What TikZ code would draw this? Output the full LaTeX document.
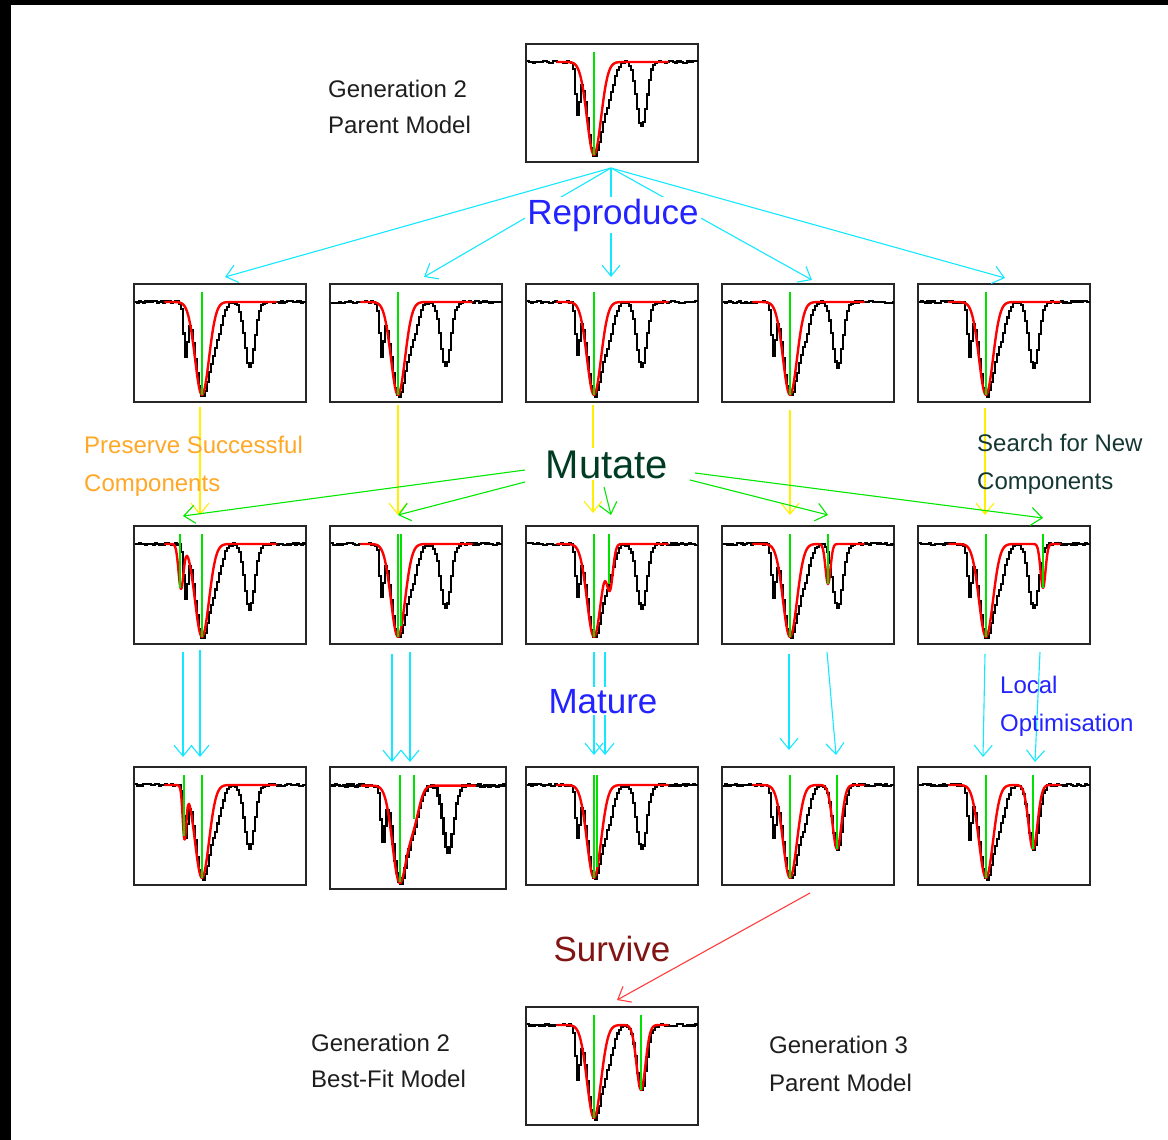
\documentclass[tikz,border=0pt]{standalone}
\usepackage{fontspec}
\setmainfont{Liberation Sans}
\usetikzlibrary{arrows.meta,calc}
\definecolor{cyanA}{RGB}{20,232,255}
\definecolor{greenA}{RGB}{0,232,0}
\definecolor{yellowA}{RGB}{255,240,0}
\definecolor{redA}{RGB}{255,60,60}
\definecolor{specred}{RGB}{255,0,0}
\definecolor{specgreen}{RGB}{0,225,0}
\definecolor{blueT}{RGB}{35,35,255}
\definecolor{mutT}{RGB}{0,60,35}
\definecolor{searchT}{RGB}{20,55,50}
\definecolor{orangeT}{RGB}{255,168,40}
\definecolor{survT}{RGB}{130,20,20}
\definecolor{darkT}{RGB}{30,30,30}

% #1 name, #2 x, #3 y, #4 extra model terms, #5 extra green markers,
% #6 width, #7 height, #8 data line width
\newcommand\specpanel[8]{%
  \node[panelbox, minimum width=#6pt, minimum height=#7pt] (#1) at (#2,#3) {};
  \begin{scope}[shift={(#2,#3)}, xscale=#6/172, yscale=#7/118]
    \draw[datal, line width=#8] plot[const plot, domain=1:171, samples=86] (\x,{blk(\x)});
    \draw[modl] plot[smooth, domain=31:142, samples=112] (\x,{18+gau(\x,68,7,93)#4});
    \draw[compl] (68,8) -- (68,111);
    #5
  \end{scope}
}

\begin{document}
\pgfmathsetseed{4711}
\begin{tikzpicture}[x=1pt,y=-1pt,
  panelbox/.style={draw=black!85, line width=1.6pt, fill=white, anchor=north west, inner sep=0pt, outer sep=0pt},
  datal/.style={black, line join=miter},
  modl/.style={specred, line width=2.4pt, line join=round, line cap=round},
  compl/.style={specgreen, line width=2pt},
  arr/.style={line width=1.1pt, -{Straight Barb[length=11pt,width=18pt]}},
  cyanarr/.style={arr, cyanA},
  yelarr/.style={arr, yellowA},
  grnarr/.style={arr, greenA},
  redarr/.style={arr, redA},
  smalltxt/.style={font=\fontsize{24}{28}\selectfont, inner sep=0pt, anchor=base west},
  bigtxt/.style={font=\fontsize{35}{40}\selectfont, inner sep=2pt, anchor=base},
  declare function={
    gau(\gx,\gc,\gs,\gd)=\gd*exp(-min(((\gx-\gc)/\gs)*((\gx-\gc)/\gs)/2,20));
    blk(\bx)=18+1.3*rand+gau(\bx,51,2,49)+gau(\bx,68,7,93)+gau(\bx,82,5.5,30)+gau(\bx,115,5,65);
  }]
\useasboundingbox (0,0) rectangle (1168,1140);
\fill[black] (0,0) rectangle (1168,1140);
\fill[white] (11,5) rectangle (1168,1140);

% ---------------- panels ----------------
\specpanel{top}{526}{44}{}{}{172}{118}{2.1pt}
\specpanel{r1}{134}{284}{}{}{172}{118}{2.1pt}
\specpanel{r2}{330}{284}{}{}{172}{118}{2.1pt}
\specpanel{r3}{526}{284}{}{}{172}{118}{2.1pt}
\specpanel{r4}{722}{284}{}{}{172}{118}{2.1pt}
\specpanel{r5}{918}{284}{}{}{172}{118}{2.1pt}

\specpanel{m1}{134}{526}{+gau(\x,47,2.5,44)}{\draw[compl] (46,8) -- (46,62);}{172}{118}{2.1pt}
\specpanel{m2}{330}{526}{}{\draw[compl] (71,8) -- (71,100);}{172}{118}{2.1pt}
\specpanel{m3}{526}{526}{+gau(\x,84,3,40)}{\draw[compl] (83,8) -- (83,58);}{172}{118}{2.1pt}
\specpanel{m4}{722}{526}{+gau(\x,106,2.5,40)}{\draw[compl] (106,8) -- (106,58);}{172}{118}{2.1pt}
\specpanel{m5}{918}{526}{+gau(\x,125,2.5,44)}{\draw[compl] (125,8) -- (125,62);}{172}{118}{2.1pt}

\specpanel{f1}{134}{767}{+gau(\x,50.5,1.8,51)}{\draw[compl] (50,8) -- (50,69);}{172}{118}{2.1pt}
\specpanel{f2}{330}{767}{+gau(\x,82,5.5,30)}{\draw[compl] (82,8) -- (82,50);}{176}{122}{2.6pt}
\specpanel{f3}{526}{767}{}{\draw[compl] (71,8) -- (71,100);}{172}{118}{2.1pt}
\specpanel{f4}{722}{767}{+gau(\x,115,4.5,64)}{\draw[compl] (115,8) -- (115,82);}{172}{118}{2.1pt}
\specpanel{f5}{918}{767}{+gau(\x,115,4.5,64)}{\draw[compl] (115,8) -- (115,82);}{172}{118}{2.1pt}

\specpanel{best}{526}{1007}{+gau(\x,115,4.5,65)}{\draw[compl] (115,8) -- (115,83);}{172}{118}{2.1pt}

% ---------------- reproduce ----------------
\draw[cyanarr] ($(top.south)+(-1,6)$) -- ($(r1.north)+(5,-7)$);
\draw[cyanarr] ($(top.south)+(-1,6)$) -- ($(r2.north)+(8,-7)$);
\draw[cyanarr] ($(top.south)+(-1,6)$) -- ($(r3.north)+(-1,-7)$);
\draw[cyanarr] ($(top.south)+(-1,6)$) -- ($(r4.north)+(4,-4)$);
\draw[cyanarr] ($(top.south)+(-1,6)$) -- ($(r5.north)+(1,-6)$);

% ---------------- mutate ----------------
\draw[yelarr] ($(r1.south)+(-20,5)$) -- ($(m1.north)+(-20,-11)$);
\draw[yelarr] ($(r2.south)+(-18,3)$) -- ($(m2.north)+(-18,-11)$);
\draw[yelarr] ($(r3.south)+(-19,3)$) -- ($(m3.north)+(-19,-13)$);
\draw[yelarr] ($(r4.south)+(-18,8)$) -- ($(m4.north)+(-18,-11)$);
\draw[yelarr] ($(r5.south)+(-19,6)$) -- ($(m5.north)+(-19,-11)$);

\coordinate (gs1) at (525,470);
\coordinate (gs2) at (525,482);
\coordinate (gs3) at (604,487);
\coordinate (gs4) at (690,480);
\coordinate (gs5) at (695,473);
\draw[grnarr] (gs1) -- ($(m1.north)+(-37,-10)$);
\draw[grnarr] (gs2) -- ($(m2.north)+(-18,-11)$);
\draw[grnarr] (gs3) -- ($(m3.north)+(-1,-11)$);
\draw[grnarr] (gs4) -- ($(m4.north)+(20,-11)$);
\draw[grnarr] (gs5) -- ($(m5.north)+(39,-8)$);

% ---------------- mature ----------------
\draw[cyanarr] ($(m1.south)+(-37,8)$) -- ($(f1.north)+(-37,-10)$);
\draw[cyanarr] ($(m1.south)+(-20,6)$) -- ($(f1.north)+(-20,-10)$);
\draw[cyanarr] ($(m2.south)+(-24,10)$) -- ($(f2.north)+(-26,-5)$);
\draw[cyanarr] ($(m2.south)+(-6,8)$) -- ($(f2.north)+(-8,-5)$);
\draw[cyanarr] ($(m3.south)+(-18,8)$) -- ($(f3.north)+(-18,-12)$);
\draw[cyanarr] ($(m3.south)+(-7,8)$) -- ($(f3.north)+(-7,-12)$);
\draw[cyanarr] ($(m4.south)+(-19,10)$) -- ($(f4.north)+(-19,-17)$);
\draw[cyanarr] ($(m4.south)+(19,8)$) -- ($(f4.north)+(28,-12)$);
\draw[cyanarr] ($(m5.south)+(-19,10)$) -- ($(f5.north)+(-21,-10)$);
\draw[cyanarr] ($(m5.south)+(36,8)$) -- ($(f5.north)+(31,-5)$);

% ---------------- survive ----------------
\draw[redarr] ($(f4.south)+(2,8)$) -- ($(best.north)+(5,-7)$);

% ---------------- texts ----------------
\node[smalltxt, darkT] (g2a) at (328,97) {Generation 2};
\node[smalltxt, darkT] (g2b) at (328,133) {Parent Model};
\node[bigtxt, blueT, fill=white] (repro) at (613,224) {Reproduce};
\node[bigtxt, mutT, fill=white, font=\fontsize{40}{44}\selectfont] (mut) at (607,478) {Mutate};
\node[smalltxt, orangeT] (pres1) at (84,453) {Preserve Successful};
\node[smalltxt, orangeT] (pres2) at (84,491) {Components};
\node[smalltxt, searchT] (srch1) at (977,451) {Search for New};
\node[smalltxt, searchT] (srch2) at (977,489) {Components};
\node[bigtxt, blueT, fill=white] (mat) at (603,713) {Mature};
\node[smalltxt, blueT] (loc1) at (1000,693) {Local};
\node[smalltxt, blueT] (loc2) at (1000,731) {Optimisation};
\node[bigtxt, survT] (surv) at (612,961) {Survive};
\node[smalltxt, darkT] (bf1) at (311,1051) {Generation 2};
\node[smalltxt, darkT] (bf2) at (311,1087) {Best-Fit Model};
\node[smalltxt, darkT] (g3a) at (769,1053) {Generation 3};
\node[smalltxt, darkT] (g3b) at (769,1091) {Parent Model};
\end{tikzpicture}
\end{document}
